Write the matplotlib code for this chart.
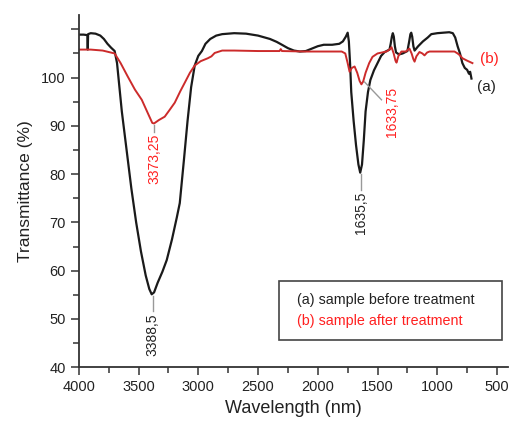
import matplotlib
matplotlib.use("Agg")
import matplotlib.pyplot as plt
from matplotlib.patches import Rectangle
from matplotlib.ticker import MultipleLocator

plt.rcParams['font.family'] = ['Liberation Sans', 'DejaVu Sans']

# (a) sample before treatment
wn_a = [4000, 3960, 3928, 3925, 3922, 3900, 3860, 3820, 3790, 3760, 3730, 3700,
        3680, 3660, 3640, 3600, 3560, 3520, 3480, 3440, 3410, 3390, 3370, 3340,
        3300, 3264, 3220, 3180, 3155, 3120, 3090, 3060, 3030, 3000, 2970, 2940,
        2900, 2850, 2800, 2700, 2600, 2500, 2400, 2344, 2300, 2250, 2200, 2150,
        2100, 2050, 2000, 1950, 1880, 1820, 1790, 1765, 1750, 1740, 1730, 1720,
        1700, 1680, 1660, 1645, 1630, 1615, 1600, 1580, 1560, 1530, 1500, 1470,
        1440, 1400, 1390, 1380, 1372, 1364, 1355, 1345, 1320, 1290, 1250, 1235,
        1225, 1218, 1210, 1200, 1190, 1160, 1120, 1080, 1050, 1000, 950, 900,
        870, 850, 830, 810, 790, 770, 750, 735, 725, 714]
tr_a = [108.9, 108.9, 108.8, 105.8, 109.0, 109.2, 109.1, 108.7, 108.0, 107.0, 106.2, 105.5,
        103.0, 98.0, 93.0, 85.0, 77.0, 70.0, 64.0, 59.0, 56.2, 55.1, 55.5, 57.5,
        59.8, 62.2, 66.5, 71.0, 74.0, 83.0, 91.0, 98.0, 102.5, 104.5, 105.5, 107.0,
        108.0, 108.7, 109.0, 109.2, 109.1, 108.7, 108.0, 107.4, 106.8, 106.1, 105.6, 105.4,
        105.5, 106.0, 106.5, 106.8, 106.8, 107.0, 107.5, 108.5, 109.3, 107.5, 103.0, 97.0,
        91.0, 86.0, 82.0, 80.3, 82.0, 87.0, 93.0, 97.0, 99.5, 101.5, 103.0, 104.5,
        105.3, 105.8, 107.0, 108.5, 109.2, 108.5, 106.5, 105.2, 104.8, 105.0, 105.5, 107.5,
        109.0, 109.3, 108.5, 106.5, 105.6, 106.5, 107.5, 108.3, 109.0, 109.2, 109.3, 109.4,
        109.2, 108.3, 106.5, 105.0, 103.0, 102.0, 101.6, 100.8, 101.2, 99.8]

# (b) sample after treatment
wn_b = [4000, 3900, 3800, 3750, 3700, 3650, 3590, 3530, 3473, 3420, 3385, 3370,
        3330, 3281, 3240, 3197, 3150, 3114, 3070, 3030, 2980, 2921, 2890, 2863,
        2800, 2700, 2500, 2320, 2310, 2300, 2100, 1900, 1800, 1770, 1750, 1734,
        1715, 1692, 1670, 1650, 1635, 1620, 1600, 1570, 1542, 1500, 1425, 1400,
        1383, 1365, 1350, 1341, 1325, 1300, 1260, 1245, 1233, 1215, 1200, 1190,
        1175, 1149, 1125, 1107, 1085, 1065, 900, 856, 830, 810, 789, 750, 706]
tr_b = [105.8, 105.8, 105.6, 105.3, 105.0, 103.0, 100.2, 97.5, 95.4, 92.5, 90.6, 90.5,
        91.2, 91.9, 93.3, 94.8, 97.2, 98.9, 101.0, 102.5, 103.4, 104.0, 104.4, 105.1,
        105.6, 105.6, 105.5, 105.5, 105.9, 105.5, 105.4, 105.4, 105.4, 105.0, 103.0, 101.2,
        102.0, 102.3, 101.0, 99.3, 98.6, 99.2, 101.0, 103.0, 104.3, 105.0, 105.4, 105.8,
        106.3, 105.0, 103.5, 103.1, 104.5, 105.4, 105.4, 105.8, 106.0, 105.0, 103.8, 103.3,
        104.4, 105.3, 105.0, 104.6, 105.2, 105.4, 105.4, 105.4, 105.0, 104.6, 104.0, 103.5, 103.0]

# peak annotations: (position, minimum, label)
peak_a = [(3381, 55.1, '3388,5'), (1642, 80.3, '1635,5')]
peak_b = [(3370, 90.5, '3373,25')]

fig = plt.figure(figsize=(5.15, 4.24), dpi=100)
ax = fig.add_axes([0.153, 0.134, 0.833, 0.831])

ax.plot(wn_a, tr_a, color='#1a1a1a', lw=1.6)
ax.plot(wn_b, tr_b, color='#cc2b2b', lw=1.4)

ax.set_xlim(4000, 410)
ax.set_ylim(40, 113)
ax.xaxis.set_major_locator(MultipleLocator(500))
ax.xaxis.set_minor_locator(MultipleLocator(250))
ax.set_yticks(range(40, 111, 10))
ax.set_yticklabels([str(v) for v in range(40, 101, 10)] + [''])
ax.yaxis.set_minor_locator(MultipleLocator(5))
for s in ['top', 'right']:
    ax.spines[s].set_visible(False)
for s in ['left', 'bottom']:
    ax.spines[s].set_color('#333333')
    ax.spines[s].set_linewidth(1.3)
ax.tick_params(which='both', color='#333333', width=1.1, labelsize=10.5, labelcolor='#222222')
ax.tick_params(which='major', length=6)
ax.tick_params(which='minor', length=4)

ax.set_xlabel('Wavelength (nm)', fontsize=13, color='#222222', labelpad=4)
ax.set_ylabel('Transmittance (%)', fontsize=12.5, color='#222222', labelpad=6)

# peak labels
for x, y, lab in peak_a:
    ax.plot([x, x], [y - 0.3, y - 3.5], color='#999999', lw=1)
    ax.text(x, y - 4.0, lab, rotation=90, ha='center', va='top', fontsize=10, color='#222222')
for x, y, lab in peak_b:
    ax.plot([x, x], [y - 0.4, y - 1.8], color='#999999', lw=1)
    ax.text(x, y - 2.2, lab, rotation=90, ha='center', va='top', fontsize=10, color='#ff2020')
ax.plot([1609, 1467], [99.1, 95.4], color='#999999', lw=1)
ax.text(1383, 98.0, '1633,75', rotation=90, ha='center', va='top', fontsize=10, color='#ff2020')

ax.text(563, 103.9, '(b)', ha='center', va='center', fontsize=11, color='#ff2020')
ax.text(585, 98.0, '(a)', ha='center', va='center', fontsize=11, color='#222222')

# legend box
ax.add_patch(Rectangle((0.466, 0.077), 0.52, 0.167, transform=ax.transAxes,
                       fill=False, edgecolor='#444444', lw=1.2))
ax.text(0.508, 0.19, '(a) sample before treatment', transform=ax.transAxes,
        ha='left', va='center', fontsize=10.3, color='#222222')
ax.text(0.508, 0.131, '(b) sample after treatment', transform=ax.transAxes,
        ha='left', va='center', fontsize=10.3, color='#ff2020')

fig.savefig('out.png', dpi=100)
